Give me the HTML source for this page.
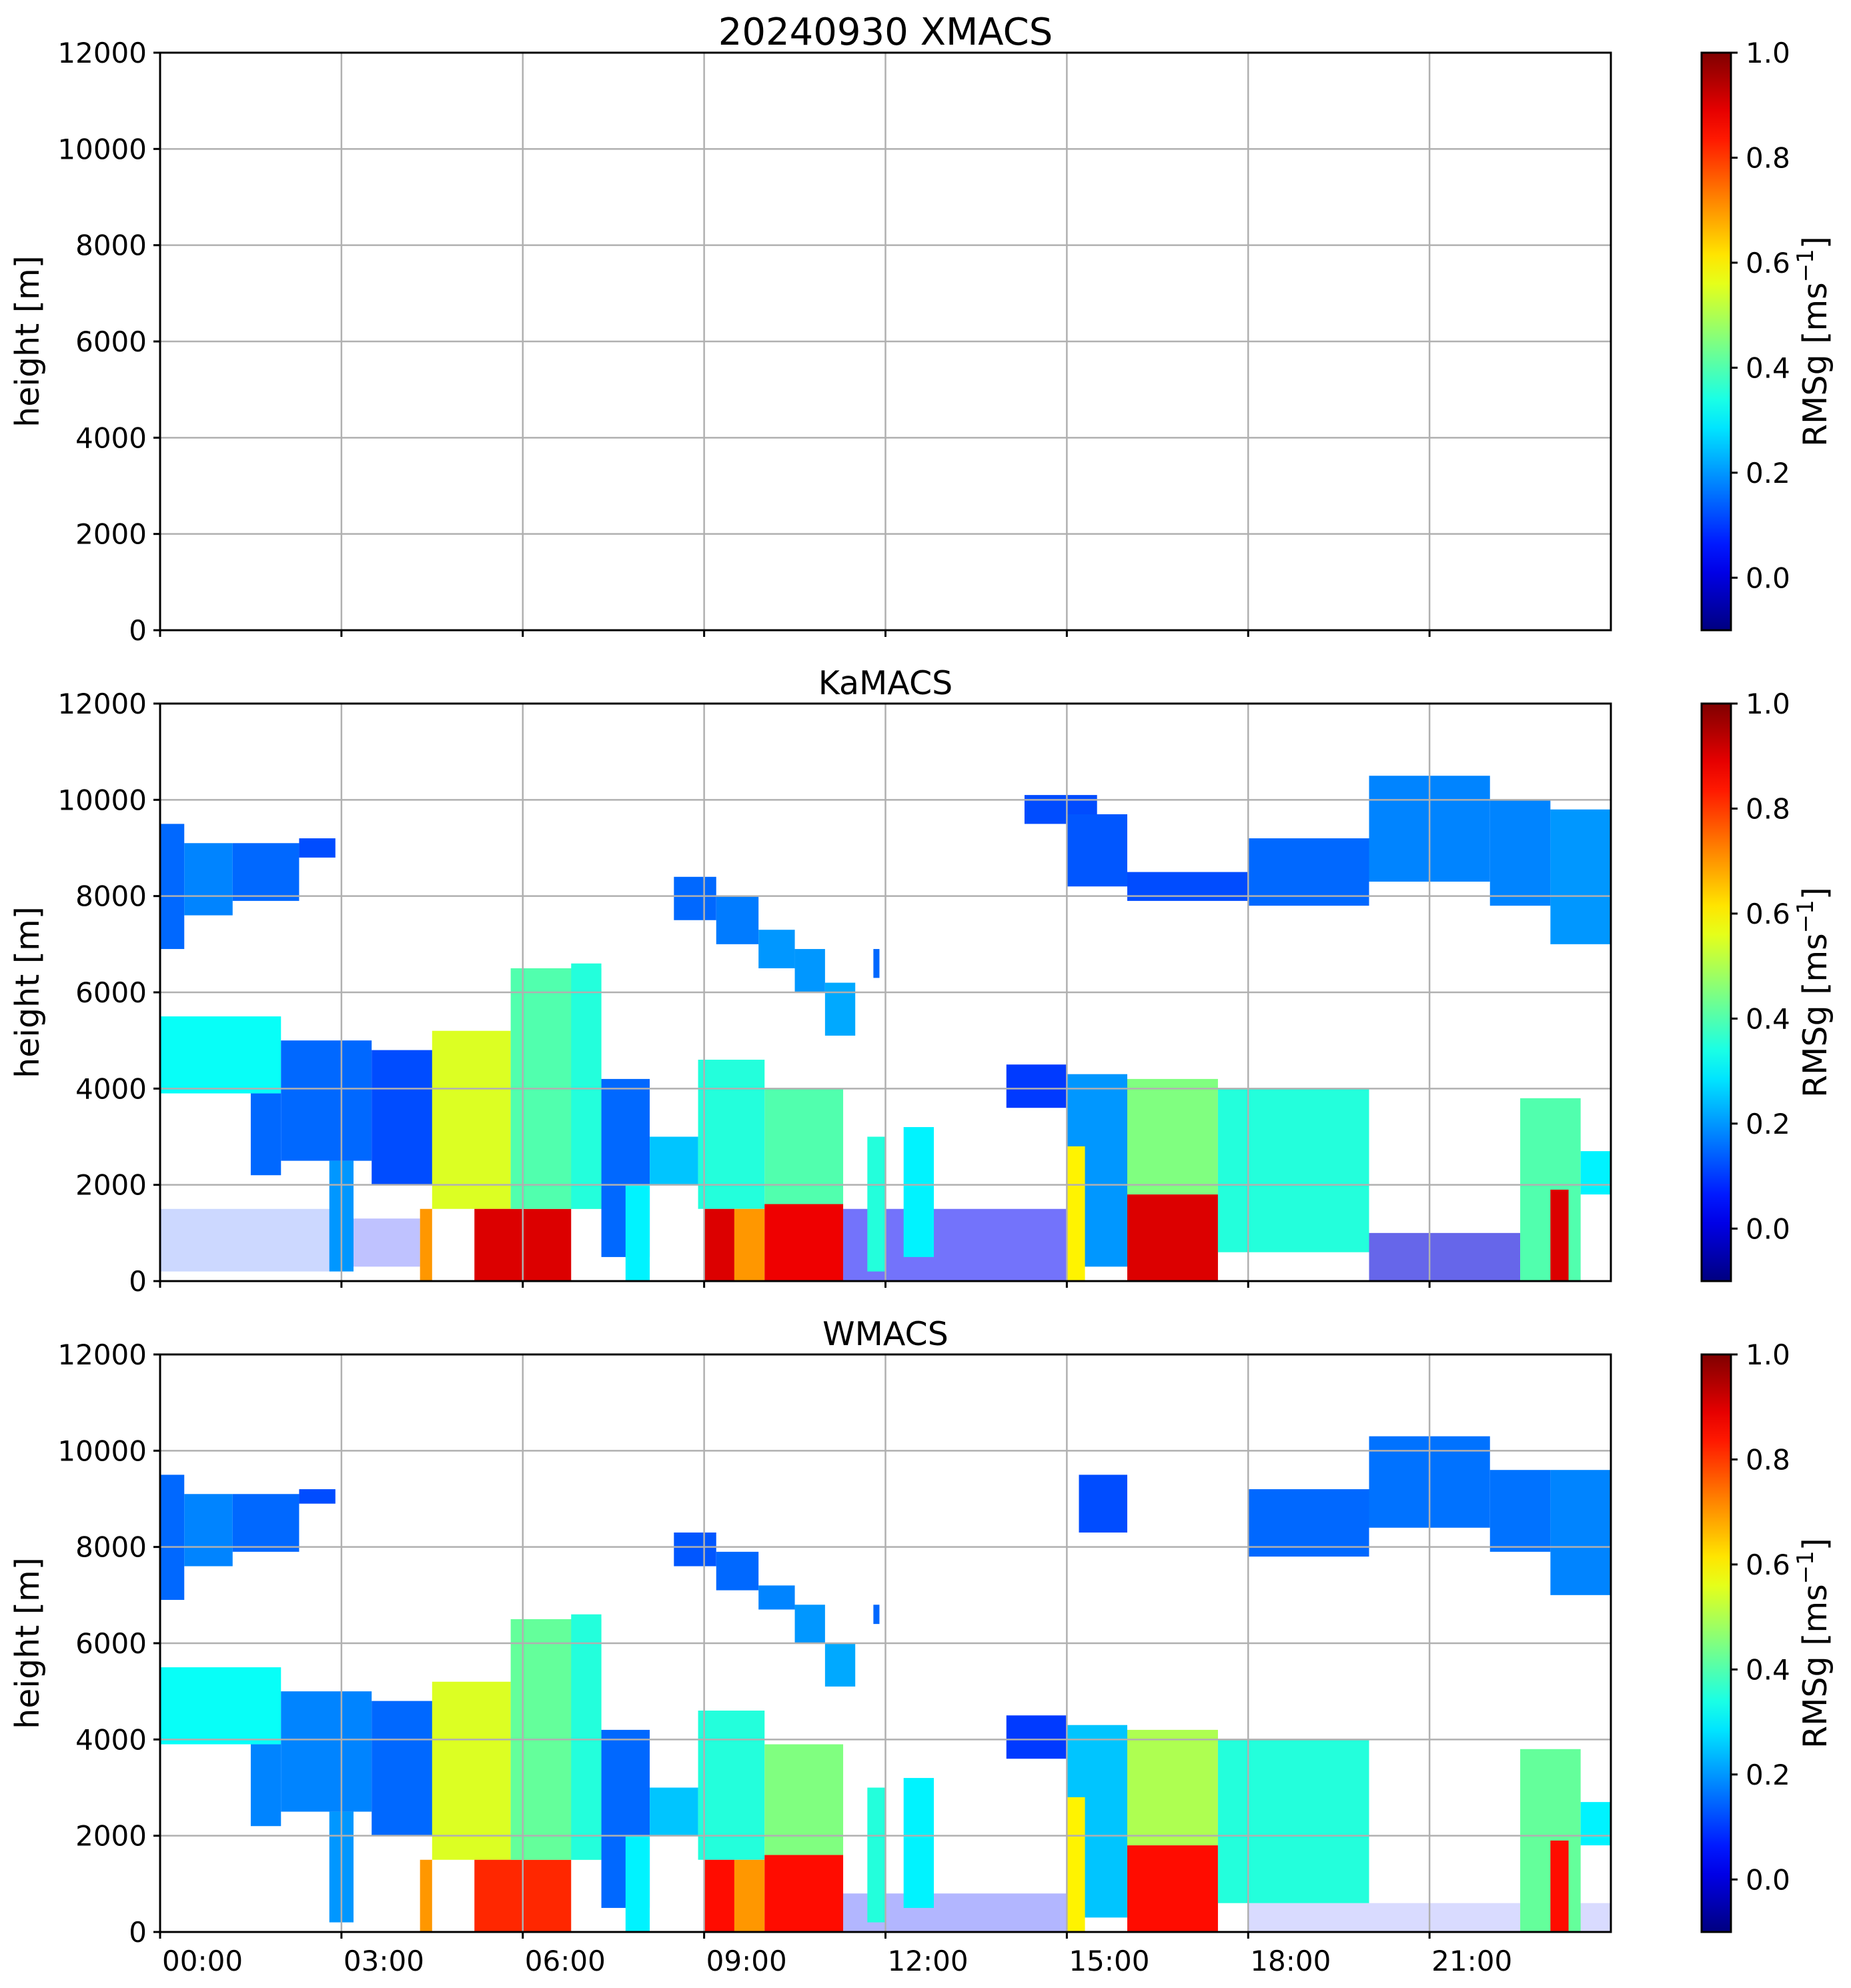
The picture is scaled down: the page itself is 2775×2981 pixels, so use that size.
<!DOCTYPE html>
<html><head><meta charset="utf-8"><style>
html,body{margin:0;padding:0;background:#fff}
svg{display:block}
text{font-family:"DejaVu Sans","Liberation Sans",sans-serif;fill:#000}
</style></head><body>
<svg id="fig" width="2775" height="2981" viewBox="0 0 2775 2981" xmlns="http://www.w3.org/2000/svg"></svg>
<script>
const yTicks=[0,2000,4000,6000,8000,10000,12000];
const xTicks=[0,3,6,9,12,15,18,21];
const xTickLabels=["00:00","03:00","06:00","09:00","12:00","15:00","18:00","21:00"];
const cbTicks=[0.0,0.2,0.4,0.6,0.8,1.0];
const panelTitles=["20240930 XMACS","KaMACS","WMACS"];
const xmCells=[];
const kaCells=[
[0,3,200,1500,0.1,0.2],[3.2,4.3,300,1300,0.05,0.25],
[11.3,15.0,0,1500,0.03,0.55],[20.0,22.5,0,1000,0.0,0.6],
[0,0.4,6900,9500,0.15],[0.4,1.2,7600,9100,0.18],[1.2,2.3,7900,9100,0.15],[2.3,2.9,8800,9200,0.12],
[8.5,9.2,7500,8400,0.15],[9.2,9.9,7000,8000,0.17],[9.9,10.5,6500,7300,0.2],[10.5,11.0,6000,6900,0.2],[11.0,11.5,5100,6200,0.22],[11.8,11.9,6300,6900,0.15],
[14.3,15.5,9500,10100,0.12],[15.0,16.0,8200,9700,0.13],[16.0,18.0,7900,8500,0.12],
[18.0,20.0,7800,9200,0.15],[20.0,22.0,8300,10500,0.18],[22.0,23.0,7800,10000,0.18],[23.0,24.0,7000,9800,0.2],
[0,2.0,3900,5500,0.32],[1.5,2.0,2200,3900,0.15],[2.0,3.5,2500,5000,0.15],[2.8,3.2,200,2500,0.2],
[3.5,4.6,2000,4800,0.12],[4.5,5.8,1500,5200,0.55],[4.3,4.5,0,1500,0.7],[5.2,6.8,0,1500,0.9],
[5.8,7.3,1500,6500,0.4],[6.8,7.3,1500,6600,0.35],[7.3,8.1,500,4200,0.15],[7.7,8.1,0,2000,0.3],
[8.1,8.9,2000,3000,0.25],[8.9,10.0,1500,4600,0.35],[9.0,9.5,0,1500,0.9],[9.5,10.0,0,1500,0.7],
[10.0,11.3,1500,4000,0.4],[10.0,11.3,0,1600,0.88],[11.7,12.0,200,3000,0.35],[12.3,12.8,500,3200,0.3],
[14.0,15.0,3600,4500,0.1],[15.0,16.0,300,4300,0.2],[15.0,15.3,0,2800,0.6],
[16.0,17.5,1800,4200,0.45],[16.0,17.5,0,1800,0.9],[17.5,20.0,600,4000,0.35],
[22.5,23.5,0,3800,0.4],[23.0,23.3,0,1900,0.9],[23.5,24,1800,2700,0.3]
];
const wCells=[
[11.3,15.0,0,800,0.05,0.3],[18.0,24.0,0,600,0.05,0.15],
[0,0.4,6900,9500,0.15],[0.4,1.2,7600,9100,0.18],[1.2,2.3,7900,9100,0.15],[2.3,2.9,8900,9200,0.12],
[8.5,9.2,7600,8300,0.13],[9.2,9.9,7100,7900,0.15],[9.9,10.5,6700,7200,0.18],[10.5,11.0,6000,6800,0.2],[11.0,11.5,5100,6000,0.22],[11.8,11.9,6400,6800,0.15],
[15.2,16.0,8300,9500,0.12],
[18.0,20.0,7800,9200,0.15],[20.0,22.0,8400,10300,0.16],[22.0,23.0,7900,9600,0.16],[23.0,24.0,7000,9600,0.18],
[0,2.0,3900,5500,0.32],[1.5,2.0,2200,3900,0.18],[2.0,3.5,2500,5000,0.18],[2.8,3.2,200,2500,0.2],
[3.5,4.6,2000,4800,0.15],[4.5,5.8,1500,5200,0.55],[4.3,4.5,0,1500,0.7],[5.2,6.8,0,1500,0.82],
[5.8,7.3,1500,6500,0.42],[6.8,7.3,1500,6600,0.35],[7.3,8.1,500,4200,0.15],[7.7,8.1,0,2000,0.3],
[8.1,8.9,2000,3000,0.25],[8.9,10.0,1500,4600,0.35],[9.0,9.5,0,1500,0.85],[9.5,10.0,0,1500,0.7],
[10.0,11.3,1600,3900,0.45],[10.0,11.3,0,1600,0.85],[11.7,12.0,200,3000,0.35],[12.3,12.8,500,3200,0.3],
[14.0,15.0,3600,4500,0.1],[15.0,16.0,300,4300,0.25],[15.0,15.3,0,2800,0.6],
[16.0,17.5,1800,4200,0.5],[16.0,17.5,0,1800,0.85],[17.5,20.0,600,4000,0.35],
[22.5,23.5,0,3800,0.42],[23.0,23.3,0,1900,0.85],[23.5,24,1800,2700,0.3]
];
const panelCells=[xmCells,kaCells,wCells];

const NS="http://www.w3.org/2000/svg";
const svg=document.getElementById('fig');
const L=240,R=2415,H=866,tops=[79,1055,2031];
const CBX=2551,CBW=44,VMIN=-0.1,VMAX=1.0;
function mk(tag,attrs,parent){const e=document.createElementNS(NS,tag);for(const k in attrs)e.setAttribute(k,attrs[k]);(parent||svg).appendChild(e);return e;}
function clamp(v){return Math.max(0,Math.min(1,v));}
function jet(v){const x=clamp((v-VMIN)/(VMAX-VMIN));const r=clamp(1.5-Math.abs(4*x-3)),g=clamp(1.5-Math.abs(4*x-2)),b=clamp(1.5-Math.abs(4*x-1));return `rgb(${Math.round(r*255)},${Math.round(g*255)},${Math.round(b*255)})`;}
function xS(h){return L+(h/24)*(R-L);}

const defs=mk('defs',{});
const grad=mk('linearGradient',{id:'jetgrad',x1:0,y1:1,x2:0,y2:0},defs);
for(let i=0;i<=20;i++){const v=VMIN+(VMAX-VMIN)*i/20;mk('stop',{offset:(i/20),'stop-color':jet(v)},grad);}

tops.forEach((top,pi)=>{
  const yS=m=>top+H-(m/12000)*H;
  const g=mk('g',{});
  
  
  const cells=mk('g',{},g);
  
  
  panelCells[pi].forEach(c=>{
    const r=mk('rect',{x:xS(c[0]),y:yS(c[3]),width:xS(c[1])-xS(c[0]),height:yS(c[2])-yS(c[3]),fill:jet(c[4]),'fill-opacity':(c.length>5?c[5]:1)},cells);
    
    
  });
  xTicks.forEach(t=>{if(t>0){const l=mk('line',{x1:xS(t),x2:xS(t),y1:top,y2:top+H,stroke:'#b0b0b0','stroke-width':2.5},g);}});
  yTicks.forEach(t=>{const l=mk('line',{x1:L,x2:R,y1:yS(t),y2:yS(t),stroke:'#b0b0b0','stroke-width':2.5},g);});
  const fr=mk('rect',{x:L,y:top,width:R-L,height:H,fill:'none',stroke:'#000','stroke-width':3},g);
  
  yTicks.forEach(t=>{
    mk('line',{x1:L-10,x2:L,y1:yS(t),y2:yS(t),stroke:'#000','stroke-width':3},g);
    const tx=mk('text',{x:L-20,y:yS(t)+15,'text-anchor':'end','font-size':42},g);tx.textContent=String(t);
    
  });
  xTicks.forEach((t,i)=>{
    mk('line',{x1:xS(t),x2:xS(t),y1:top+H,y2:top+H+10,stroke:'#000','stroke-width':3},g);
    if(pi===2){const tx=mk('text',{x:xS(t)+3,y:top+H+58,'font-size':42},g);tx.textContent=xTickLabels[i];
      }
  });
  const tt=mk('text',{x:(L+R)/2,y:pi===0?67:top-14,'text-anchor':'middle','font-size':pi===0?56:49},g);tt.textContent=panelTitles[pi];
  
  const yl=mk('text',{x:0,y:0,'text-anchor':'middle','font-size':49,transform:`translate(58,${top+H/2}) rotate(-90)`},g);yl.textContent='height [m]';
  
  const cb=mk('g',{},g);
  
  mk('rect',{x:CBX,y:top,width:CBW,height:H,fill:'url(#jetgrad)',stroke:'#000','stroke-width':3},cb);
  const cS=v=>top+H-((v-VMIN)/(VMAX-VMIN))*H;
  cbTicks.forEach(v=>{
    mk('line',{x1:CBX+CBW,x2:CBX+CBW+10,y1:cS(v),y2:cS(v),stroke:'#000','stroke-width':3},cb);
    const tx=mk('text',{x:CBX+CBW+22,y:cS(v)+15,'font-size':42},cb);tx.textContent=v.toFixed(1);
    
  });
  const cl=mk('text',{x:0,y:0,'text-anchor':'middle','font-size':49,transform:`translate(2738,${top+H/2}) rotate(-90)`},cb);
  cl.innerHTML='RMSg [ms<tspan baseline-shift="super" font-size="34">−1</tspan>]';
  
});
</script>
</body></html>
